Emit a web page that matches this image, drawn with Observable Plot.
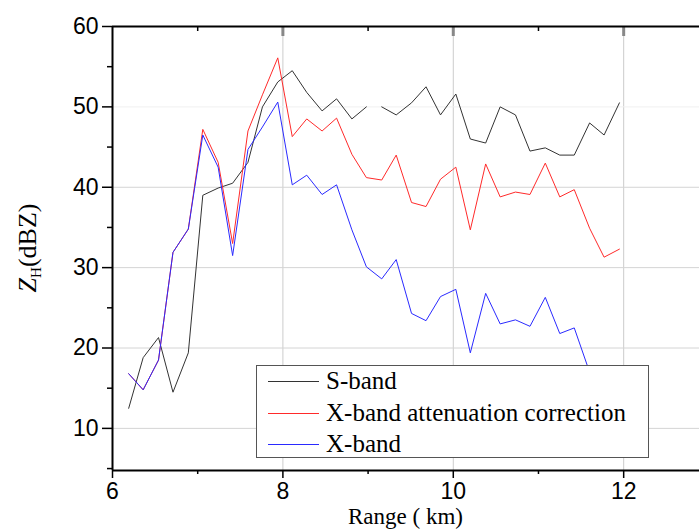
<!DOCTYPE html>
<html><head><meta charset="utf-8">
<script src="https://cdn.jsdelivr.net/npm/d3@7"></script>
<script src="https://cdn.jsdelivr.net/npm/@observablehq/plot@0.6"></script>
<style>
html,body{margin:0;padding:0;background:#fff;}
#chart{position:relative;width:699px;height:531px;overflow:hidden;}
#legend{position:absolute;left:256px;top:365px;width:391px;height:91px;border:1px solid #555;background:#fff;font-family:"Liberation Serif","Times New Roman",serif;font-size:25px;color:#000;}
.row{position:absolute;left:0;height:30px;display:flex;align-items:center;white-space:nowrap;}
.sw{display:inline-block;width:51px;height:0;border-top:1px solid;margin-left:11px;margin-right:7px;}
</style></head><body><div id="chart"></div>
<script>
// Range (km)
const rangeKm = [6.19,6.36,6.54,6.71,6.89,7.06,7.24,7.41,7.59,7.76,7.94,8.11,8.28,8.46,8.63,8.81,8.98,9.16,9.33,9.51,9.68,9.85,10.03,10.20,10.38,10.55,10.73,10.90,11.08,11.25,11.42,11.60,11.77,11.95];
// S-band ZH (dBZ)
const sBand = [12.5,18.8,21.3,14.5,19.4,39.0,39.9,40.5,43.1,50.0,53.1,54.5,51.8,49.5,51.0,48.5,50.0,50.0,49.0,50.5,52.5,49.0,51.6,46.0,45.5,50.0,49.0,44.5,44.9,44.0,44.0,48.0,46.5,50.5];
// index after which the S-band trace is interrupted
const sBandBreakAfter = 16;
// X-band attenuation correction
const xCorr = [16.8,14.8,18.5,31.9,34.8,47.2,43.1,33.0,47.0,51.5,56.1,46.3,48.5,47.0,48.6,44.1,41.2,40.9,44.0,38.1,37.6,41.0,42.5,34.7,42.9,38.8,39.4,39.1,43.0,38.8,39.7,34.9,31.3,32.3];
// X-band
const xBand = [16.8,14.8,18.5,31.9,34.8,46.5,42.5,31.5,44.7,47.5,50.6,40.3,41.5,39.1,40.3,34.7,30.1,28.6,31.0,24.3,23.4,26.4,27.3,19.4,26.8,23.0,23.5,22.7,26.3,21.8,22.5,17.0,16.0,15.0];

const seriesNames = ["S-band","X-band attenuation correction","X-band"];
const seriesColors = ["#333333","#ff2a2a","#2a2aff"];

const xMajor = [6,8,10,12];
const xMinor = [7,9,11];
const yMajor = [10,20,30,40,50,60];
const yMinor = [5,15,25,35,45,55];
const yGrid = [10,20,30,40];
const xGrid = [8,10,12];

const W = 699, H = 531;
const mL = 112, mT = 26, mB = 61, mR = 0;
const xDomain = [6, 12.89];
const yDomain = [4.76, 60];
const ppu = (H - mT - mB) / (yDomain[1] - yDomain[0]);

const sRows = rangeKm.map((r,i)=>({r, v:sBand[i], seg: i <= sBandBreakAfter ? 0 : 1}));
const cRows = rangeKm.map((r,i)=>({r, v:xCorr[i]}));
const bRows = rangeKm.map((r,i)=>({r, v:xBand[i]}));

const chart = Plot.plot({
  width: W, height: H,
  marginLeft: mL, marginTop: mT, marginBottom: mB, marginRight: mR,
  x: {domain: xDomain},
  y: {domain: yDomain},
  style: {fontFamily: "'Liberation Sans', Arial, sans-serif", fontSize: "23px", color: "#000", background: "#fff"},
  marks: [
    Plot.ruleX(xGrid, {stroke: "#cccccc", strokeWidth: 1}),
    Plot.ruleY(yGrid, {stroke: "#d4d4d4", strokeWidth: 1}),
    Plot.ruleY([50], {stroke: "#f0f0f0", strokeWidth: 1}),
    Plot.line(sRows, {x: "r", y: "v", z: "seg", stroke: seriesColors[0], strokeWidth: 1}),
    Plot.line(cRows, {x: "r", y: "v", stroke: seriesColors[1], strokeWidth: 1}),
    Plot.line(bRows, {x: "r", y: "v", stroke: seriesColors[2], strokeWidth: 1}),
    Plot.axisY(yMajor, {tickSize: 10, tickPadding: 4, strokeWidth: 1.5, label: null, fontSize: 23}),
    Plot.axisY(yMinor, {tickSize: 5, text: null, strokeWidth: 1.5, label: null}),
    Plot.axisX(xMajor, {tickSize: 8, tickPadding: 4, strokeWidth: 1.5, label: null, fontSize: 23}),
    Plot.axisX(xMinor, {tickSize: 4, text: null, strokeWidth: 1.5, label: null}),
    Plot.ruleX(xMajor.filter(d=>d>6), {x: d=>d, y1: yDomain[1], y2: yDomain[1] - 10/ppu, stroke: "#888", strokeWidth: 3}),
    Plot.ruleX(xMinor, {x: d=>d, y1: yDomain[1], y2: yDomain[1] - 5/ppu, stroke: "#000", strokeWidth: 1.5}),
    Plot.ruleX([xDomain[0]], {stroke: "#000", strokeWidth: 2}),
    Plot.ruleY([yDomain[0]], {stroke: "#000", strokeWidth: 2}),
    Plot.ruleY([yDomain[1]], {stroke: "#000", strokeWidth: 2})
  ]
});

const svg = d3.select(chart);
const serif = "'Liberation Serif', 'Times New Roman', serif";
const yl = svg.append("text")
  .attr("transform", `translate(${27},${(mT + H - mB)/2}) rotate(-90)`)
  .attr("text-anchor", "middle").attr("dy", "0.35em")
  .attr("font-family", serif).attr("font-size", 26).attr("fill", "#000");
yl.append("tspan").attr("font-style", "italic").text("Z");
yl.append("tspan").attr("font-size", 15).attr("dy", 5).text("H");
yl.append("tspan").attr("dy", -5).text("(dBZ)");
svg.append("text")
  .attr("x", (mL + W - mR)/2).attr("y", 524)
  .attr("text-anchor", "middle")
  .attr("font-family", serif).attr("font-size", 23).attr("fill", "#000")
  .text("Range ( km)");

const host = document.getElementById("chart");
host.appendChild(chart);
const legend = document.createElement("div");
legend.id = "legend";
const rowCenters = [15, 47, 78];
seriesNames.forEach((name, i) => {
  const row = document.createElement("div");
  row.className = "row";
  row.style.top = (rowCenters[i] - 15) + "px";
  const sw = document.createElement("span");
  sw.className = "sw";
  sw.style.borderTopColor = seriesColors[i];
  const t = document.createElement("span");
  t.textContent = name;
  row.appendChild(sw); row.appendChild(t);
  legend.appendChild(row);
});
host.appendChild(legend);
</script>
</body></html>
